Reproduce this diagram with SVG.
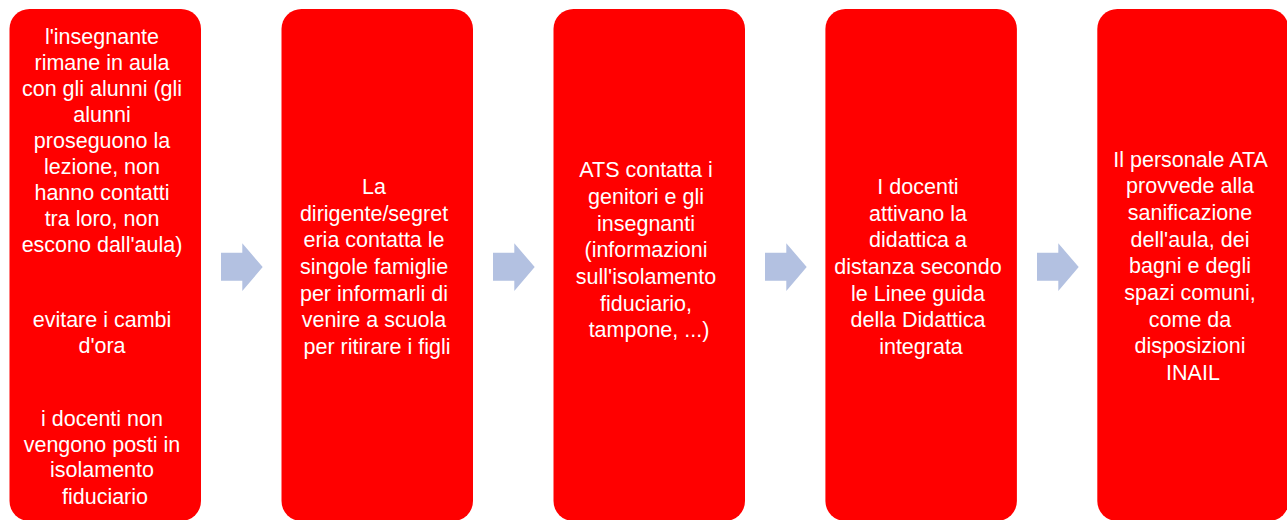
<svg xmlns="http://www.w3.org/2000/svg" width="1287" height="520" viewBox="0 0 1287 520">
<style>
.box{fill:#FF0000}
.t{font-family:"Liberation Sans",Arial,sans-serif;font-size:21.5px;fill:#FFFFFF;text-anchor:middle}
.arr{fill:#B3C1E1}
</style>
<defs>
<polygon id="arrow" points="0,0 21.3,0 21.3,-9.4 41.7,14.3 21.3,38.3 21.3,28 0,28"/>
</defs>
<rect width="1287" height="520" fill="#FFFFFF"/>
<g id="connectors">
<use href="#arrow" class="arr" x="221" y="252.7"/>
<use href="#arrow" class="arr" x="493" y="252.7"/>
<use href="#arrow" class="arr" x="765" y="252.7"/>
<use href="#arrow" class="arr" x="1037" y="252.7"/>
</g>
<g id="node1">
<rect class="box" x="9.5" y="9" width="191.5" height="512" rx="20"/>
<text class="t">
<tspan x="105" y="43.5">l'insegnante</tspan>
<tspan x="105" y="69.6">rimane in aula</tspan>
<tspan x="105" y="95.7">con gli alunni (gli</tspan>
<tspan x="105" y="121.8">alunni</tspan>
<tspan x="105" y="147.9">proseguono la</tspan>
<tspan x="105" y="174">lezione, non</tspan>
<tspan x="105" y="200.1">hanno contatti</tspan>
<tspan x="105" y="226.2">tra loro, non</tspan>
<tspan x="105" y="252.3">escono dall'aula)</tspan>
<tspan x="105" y="326.7">evitare i cambi</tspan>
<tspan x="105" y="352.5">d'ora</tspan>
<tspan x="105" y="425.8">i docenti non</tspan>
<tspan x="105" y="451.6">vengono posti in</tspan>
<tspan x="105" y="477.4">isolamento</tspan>
<tspan x="105" y="504">fiduciario</tspan>
</text>
</g>
<g id="node2">
<rect class="box" x="281.5" y="9" width="191.5" height="512" rx="20"/>
<text class="t">
<tspan x="377" y="194">La</tspan>
<tspan x="377" y="220.7">dirigente/segret</tspan>
<tspan x="377" y="247.4">eria contatta le</tspan>
<tspan x="377" y="274">singole famiglie</tspan>
<tspan x="377" y="300.7">per informarli di</tspan>
<tspan x="377" y="327.4">venire a scuola</tspan>
<tspan x="377" y="354">per ritirare i figli</tspan>
</text>
</g>
<g id="node3">
<rect class="box" x="553.5" y="9" width="191.5" height="512" rx="20"/>
<text class="t">
<tspan x="649" y="177.3">ATS contatta i</tspan>
<tspan x="649" y="204">genitori e gli</tspan>
<tspan x="649" y="230.7">insegnanti</tspan>
<tspan x="649" y="257.4">(informazioni</tspan>
<tspan x="649" y="284">sull'isolamento</tspan>
<tspan x="649" y="310.7">fiduciario,</tspan>
<tspan x="649" y="337.4">tampone, ...)</tspan>
</text>
</g>
<g id="node4">
<rect class="box" x="825.4" y="9" width="191.5" height="512" rx="20"/>
<text class="t">
<tspan x="921" y="194">I docenti</tspan>
<tspan x="921" y="220.7">attivano la</tspan>
<tspan x="921" y="247.4">didattica a</tspan>
<tspan x="921" y="274">distanza secondo</tspan>
<tspan x="921" y="300.7">le Linee guida</tspan>
<tspan x="921" y="327.4">della Didattica</tspan>
<tspan x="921" y="354">integrata</tspan>
</text>
</g>
<g id="node5">
<rect class="box" x="1097.3" y="9" width="191.5" height="512" rx="20"/>
<text class="t">
<tspan x="1193" y="166.7">Il personale ATA</tspan>
<tspan x="1193" y="193.4">provvede alla</tspan>
<tspan x="1193" y="220">sanificazione</tspan>
<tspan x="1193" y="246.7">dell'aula, dei</tspan>
<tspan x="1193" y="273.4">bagni e degli</tspan>
<tspan x="1193" y="300">spazi comuni,</tspan>
<tspan x="1193" y="326.7">come da</tspan>
<tspan x="1193" y="353.4">disposizioni</tspan>
<tspan x="1193" y="380">INAIL</tspan>
</text>
</g>
</svg>
